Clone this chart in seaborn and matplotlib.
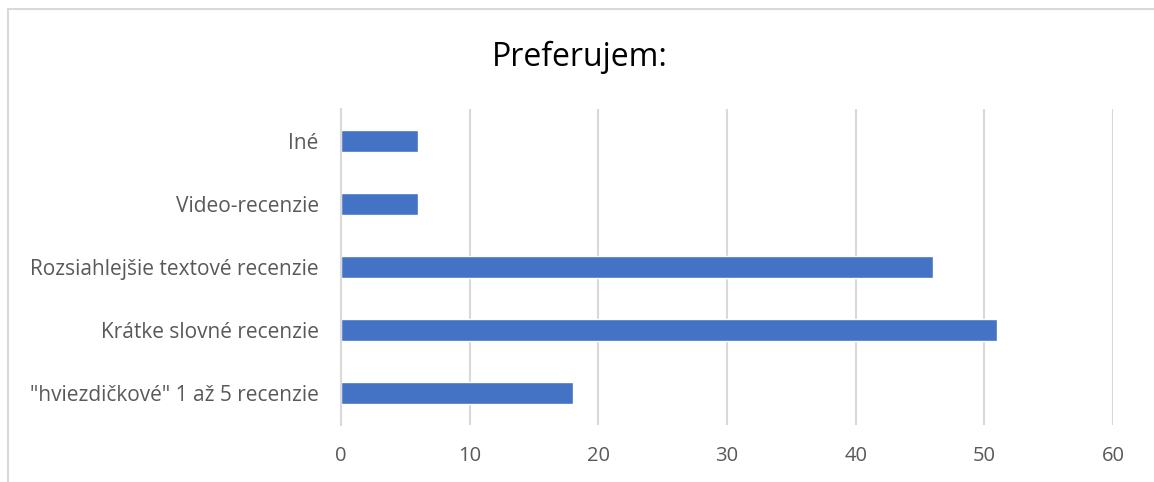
import matplotlib
matplotlib.use("Agg")
import matplotlib.pyplot as plt
from matplotlib.patches import Rectangle
import seaborn as sns
import pandas as pd

categories = [
    "Iné",
    "Video-recenzie",
    "Rozsiahlejšie textové recenzie",
    "Krátke slovné recenzie",
    "\"hviezdičkové\" 1 až 5 recenzie",
]
values = [6, 6, 46, 51, 18]
x_ticks = [0, 10, 20, 30, 40, 50, 60]

sns.set_theme(style="white")
plt.rcParams["font.family"] = ["Open Sans", "DejaVu Sans"]

text_color = "#595959"
grid_color = "#d9d9d9"
bar_color = "#4472C4"

df = pd.DataFrame({"kategoria": categories, "pocet": values})

fig = plt.figure(figsize=(11.54, 4.82), dpi=100)
ax = fig.add_axes([341 / 1154, 1 - 425 / 482, (1113 - 341) / 1154, (425 - 109) / 482])

sns.barplot(data=df, x="pocet", y="kategoria", order=categories,
            color=bar_color, saturation=1, width=0.35, orient="h", ax=ax)

ax.set_xlim(0, 60)
ax.set_ylim(4.5, -0.5)
ax.set_xticks(x_ticks)
ax.set_xticklabels([str(t) for t in x_ticks])
ax.xaxis.grid(True, color=grid_color, linewidth=1.5)
ax.yaxis.grid(False)
ax.set_axisbelow(True)
for side in ["top", "right", "bottom"]:
    ax.spines[side].set_visible(False)
ax.spines["left"].set_color(grid_color)
ax.spines["left"].set_linewidth(1.5)
ax.tick_params(axis="both", length=0, colors=text_color)
ax.tick_params(axis="y", pad=16, labelsize=15)
ax.tick_params(axis="x", pad=15, labelsize=14.5)
ax.set_xlabel("")
ax.set_ylabel("")

fig.text(580 / 1154, 1 - 57 / 482, "Preferujem:", ha="center", va="center",
         fontsize=23, color="#000000")

# chart frame
fig.patches.append(Rectangle((8 / 1154, -0.1), 1.2, 1 - 9 / 482 + 0.1,
                             transform=fig.transFigure, fill=False,
                             edgecolor=grid_color, linewidth=1.5))

fig.savefig("out.png", dpi=100, facecolor="white")
